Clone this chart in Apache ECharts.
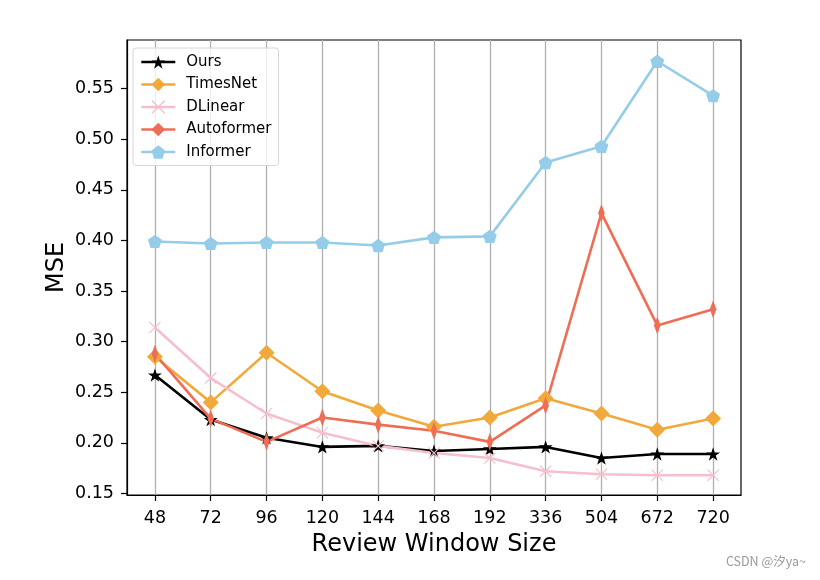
<!DOCTYPE html>
<html>
<head>
<meta charset="utf-8">
<script src="https://cdn.jsdelivr.net/npm/echarts@6/dist/echarts.min.js"></script>
<style>html,body{margin:0;padding:0;background:#fff}#c{width:820px;height:580px}</style>
</head>
<body>
<div id="c"></div>
<script>
var categories = ['48','72','96','120','144','168','192','336','504','672','720'];
var ours       = [0.267,0.223,0.205,0.196,0.197,0.192,0.194,0.196,0.185,0.189,0.189];
var timesnet   = [0.285,0.240,0.289,0.251,0.232,0.216,0.225,0.244,0.229,0.213,0.224];
var dlinear    = [0.314,0.264,0.229,0.210,0.197,0.190,0.185,0.172,0.169,0.168,0.168];
var autoformer = [0.288,0.224,0.201,0.225,0.218,0.212,0.201,0.237,0.427,0.316,0.332];
var informer   = [0.399,0.397,0.398,0.398,0.395,0.403,0.404,0.477,0.493,0.577,0.543];
var yTicks = [0.15,0.20,0.25,0.30,0.35,0.40,0.45,0.50,0.55];

var STAR = 'path://M0,-10 L2.245,-3.09 L9.511,-3.09 L3.633,1.18 L5.878,8.09 L0,3.82 L-5.878,8.09 L-3.633,1.18 L-9.511,-3.09 L-2.245,-3.09 Z';
var PENT = 'path://M0,-10 L9.511,-3.09 L5.878,8.09 L-5.878,8.09 L-9.511,-3.09 Z';
var XMARK = 'path://M-10,-8.6 L-8.6,-10 L0,-1.4 L8.6,-10 L10,-8.6 L1.4,0 L10,8.6 L8.6,10 L0,1.4 L-8.6,10 L-10,8.6 L-1.4,0 Z';
var THIN = 'path://M0,-10 L6,0 L0,10 L-6,0 Z';

function mk(name, data, color, symbol, size) {
  return {
    name: name, type: 'line', data: data, symbol: symbol, symbolSize: size,
    symbolKeepAspect: true, showAllSymbol: true,
    lineStyle: {color: color, width: 2.6},
    itemStyle: {color: color, borderWidth: 0},
    emphasis: {disabled: true}, animation: false
  };
}

var chart = echarts.init(document.getElementById('c'), null, {renderer: 'canvas'});
chart.setOption({
  animation: false,
  textStyle: {fontFamily: 'DejaVu Sans'},
  grid: {left: 127, top: 40, right: 79, bottom: 85, show: true, borderColor: '#000', borderWidth: 1.2, backgroundColor: 'transparent'},
  legend: {
    left: 133, top: 48, orient: 'vertical', itemGap: 7.5, itemWidth: 34, itemHeight: 17,
    padding: [6.5, 7, 6, 7],
    borderColor: '#d6d6d6', borderWidth: 1, borderRadius: 3, backgroundColor: 'rgba(255,255,255,0.8)',
    lineStyle: {width: 2.6},
    textStyle: {fontSize: 15, color: '#000', fontFamily: 'DejaVu Sans', padding: [0, 0, 0, 6]},
    data: ['Ours','TimesNet','DLinear','Autoformer','Informer']
  },
  xAxis: {
    type: 'category', data: categories, boundaryGap: true,
    name: 'Review Window Size', nameLocation: 'middle', nameGap: 38, nameMoveOverlap: false,
    nameTextStyle: {fontSize: 24, color: '#000', fontFamily: 'DejaVu Sans'},
    axisLine: {show: true, lineStyle: {color: '#000', width: 1.2}},
    axisTick: {show: true, alignWithLabel: true, length: 6, inside: false, lineStyle: {color: '#000', width: 1.2}},
    axisLabel: {fontSize: 17.5, color: '#000', margin: 14, fontFamily: 'DejaVu Sans'},
    splitLine: {show: true, alignWithLabel: true, lineStyle: {color: '#b0b0b0', width: 1.3}}
  },
  yAxis: {
    type: 'value', min: 0.1485, max: 0.598,
    name: 'MSE', nameLocation: 'middle', nameGap: 58, nameRotate: 90, nameMoveOverlap: false,
    nameTextStyle: {fontSize: 24, color: '#000', fontFamily: 'DejaVu Sans'},
    axisLine: {show: true, lineStyle: {color: '#000', width: 1.2}},
    axisTick: {show: true, length: 6, inside: false, customValues: yTicks, lineStyle: {color: '#000', width: 1.2}},
    axisLabel: {fontSize: 17.5, color: '#000', margin: 13, customValues: yTicks, fontFamily: 'DejaVu Sans',
      formatter: function (v) { return v.toFixed(2); }},
    splitLine: {show: false}
  },
  graphic: [{
    type: 'text', right: 14, top: 555,
    style: {text: 'CSDN @汐ya~', fill: '#9a9a9a', fontSize: 12.5, fontFamily: 'Noto Sans CJK SC'}
  }],
  series: [
    mk('Ours', ours, '#000000', STAR, 14),
    mk('TimesNet', timesnet, '#F2A93B', 'diamond', 16),
    mk('DLinear', dlinear, '#F5BFCC', XMARK, 12),
    mk('Autoformer', autoformer, '#EE6E55', THIN, [11, 18]),
    mk('Informer', informer, '#95CDE9', PENT, 14)
  ]
});
</script>
</body>
</html>
